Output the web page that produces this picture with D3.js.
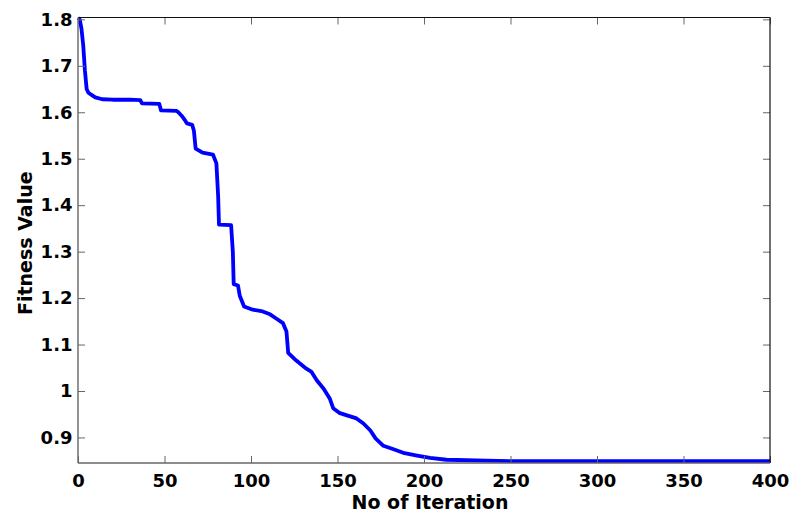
<!DOCTYPE html>
<html>
<head>
<meta charset="utf-8">
<script src="https://cdn.jsdelivr.net/npm/d3@7"></script>
<style>
  html, body { margin: 0; padding: 0; background: #fff; }
  svg { display: block; font-family: "DejaVu Sans", "Liberation Sans", Arial, sans-serif; }
</style>
</head>
<body>
<svg id="chart" width="790" height="515"></svg>
<script>
// Convergence curve: best fitness value per iteration
const iterations = [0, 1, 2, 3, 4, 5, 6, 8, 10, 14, 20, 30, 36, 37, 47, 48, 57, 58, 60, 62, 63,
  66, 67, 68, 72, 78, 80, 81, 81.5, 88.5, 89.5, 90, 92.5, 93.5, 96, 101, 106, 111, 115, 118.5,
  120.5, 121.5, 126, 132, 135, 138, 142, 145.5, 147.5, 151, 155, 161, 165, 169, 172, 176.5,
  182, 188, 196, 203.5, 213, 236, 250, 400];
const fitness = [1.803, 1.800, 1.780, 1.745, 1.690, 1.650, 1.642, 1.637, 1.632, 1.628, 1.627,
  1.627, 1.626, 1.619, 1.618, 1.604, 1.603, 1.600, 1.592, 1.582, 1.576,
  1.573, 1.560, 1.522, 1.513, 1.509, 1.490, 1.420, 1.358, 1.357, 1.300, 1.230, 1.227, 1.205,
  1.182, 1.175, 1.172, 1.165, 1.155, 1.146,
  1.128, 1.082, 1.066, 1.048, 1.041, 1.023, 1.005, 0.984, 0.963, 0.953, 0.948, 0.941, 0.930,
  0.915, 0.898, 0.882, 0.875, 0.867, 0.861, 0.856, 0.852, 0.850, 0.849, 0.849];

const xTicks = [0, 50, 100, 150, 200, 250, 300, 350, 400];
const yTicks = [0.9, 1, 1.1, 1.2, 1.3, 1.4, 1.5, 1.6, 1.7, 1.8];
const xTitle = "No of Iteration";
const yTitle = "Fitness Value";

const svg = d3.select("#chart");
const W = 790, H = 515;
const m = { left: 78, right: 20, top: 17.5, bottom: 52 };
const pw = W - m.left - m.right, ph = H - m.top - m.bottom;

const x = d3.scaleLinear().domain([0, 400]).range([m.left, m.left + pw]);
const y = d3.scaleLinear().domain([0.845, 1.804]).range([m.top + ph, m.top]);

const data = iterations.map((it, i) => ({ it, v: fitness[i] }));

// curve
svg.append("path")
  .datum(data)
  .attr("fill", "none")
  .attr("stroke", "#0000ff")
  .attr("stroke-width", 3.8)
  .attr("stroke-linejoin", "round")
  .attr("stroke-linecap", "butt")
  .attr("d", d3.line().x(d => x(d.it)).y(d => y(d.v)));

const fmtY = d => (d === 1 ? "1" : d3.format(".1f")(d));
const tickLen = 7;

// inward ticks on all four sides
function axisGroup(axis, tx, ty) {
  const g = svg.append("g").attr("transform", `translate(${tx},${ty})`).call(axis);
  g.select(".domain").remove();
  g.selectAll(".tick line").attr("stroke", "#666").attr("stroke-width", 1);
  g.selectAll("text")
    .attr("fill", "#000")
    .style("font-family", "'DejaVu Sans', sans-serif")
    .style("font-size", "18px")
    .style("font-weight", "bold");
  return g;
}

axisGroup(d3.axisBottom(x).tickValues(xTicks).tickSize(-tickLen).tickPadding(11)
  .tickFormat(d3.format("d")), 0, m.top + ph);
axisGroup(d3.axisTop(x).tickValues(xTicks).tickSize(-tickLen).tickFormat(""), 0, m.top);
axisGroup(d3.axisLeft(y).tickValues(yTicks).tickSize(-tickLen).tickPadding(5.5)
  .tickFormat(fmtY), m.left, 0);
axisGroup(d3.axisRight(y).tickValues(yTicks).tickSize(-tickLen).tickFormat(""), m.left + pw, 0);

// frame
svg.append("line").attr("x1", m.left).attr("x2", m.left + pw).attr("y1", m.top).attr("y2", m.top)
  .attr("stroke", "#111").attr("stroke-width", 1.2);
svg.append("line").attr("x1", m.left + pw).attr("x2", m.left + pw).attr("y1", m.top).attr("y2", m.top + ph)
  .attr("stroke", "#111").attr("stroke-width", 1.2);
svg.append("line").attr("x1", m.left).attr("x2", m.left).attr("y1", m.top).attr("y2", m.top + ph)
  .attr("stroke", "#666").attr("stroke-width", 1.4);
svg.append("line").attr("x1", m.left).attr("x2", m.left + pw).attr("y1", m.top + ph).attr("y2", m.top + ph)
  .attr("stroke", "#666").attr("stroke-width", 1.4);

// axis titles
svg.append("text")
  .attr("x", m.left + pw / 2 + 6).attr("y", 509)
  .attr("text-anchor", "middle")
  .style("font-size", "19px").style("font-weight", "bold")
  .text(xTitle);
svg.append("text")
  .attr("transform", `translate(32,${m.top + ph / 2 + 3}) rotate(-90)`)
  .attr("text-anchor", "middle")
  .style("font-size", "19px").style("font-weight", "bold")
  .text(yTitle);
</script>
</body>
</html>
